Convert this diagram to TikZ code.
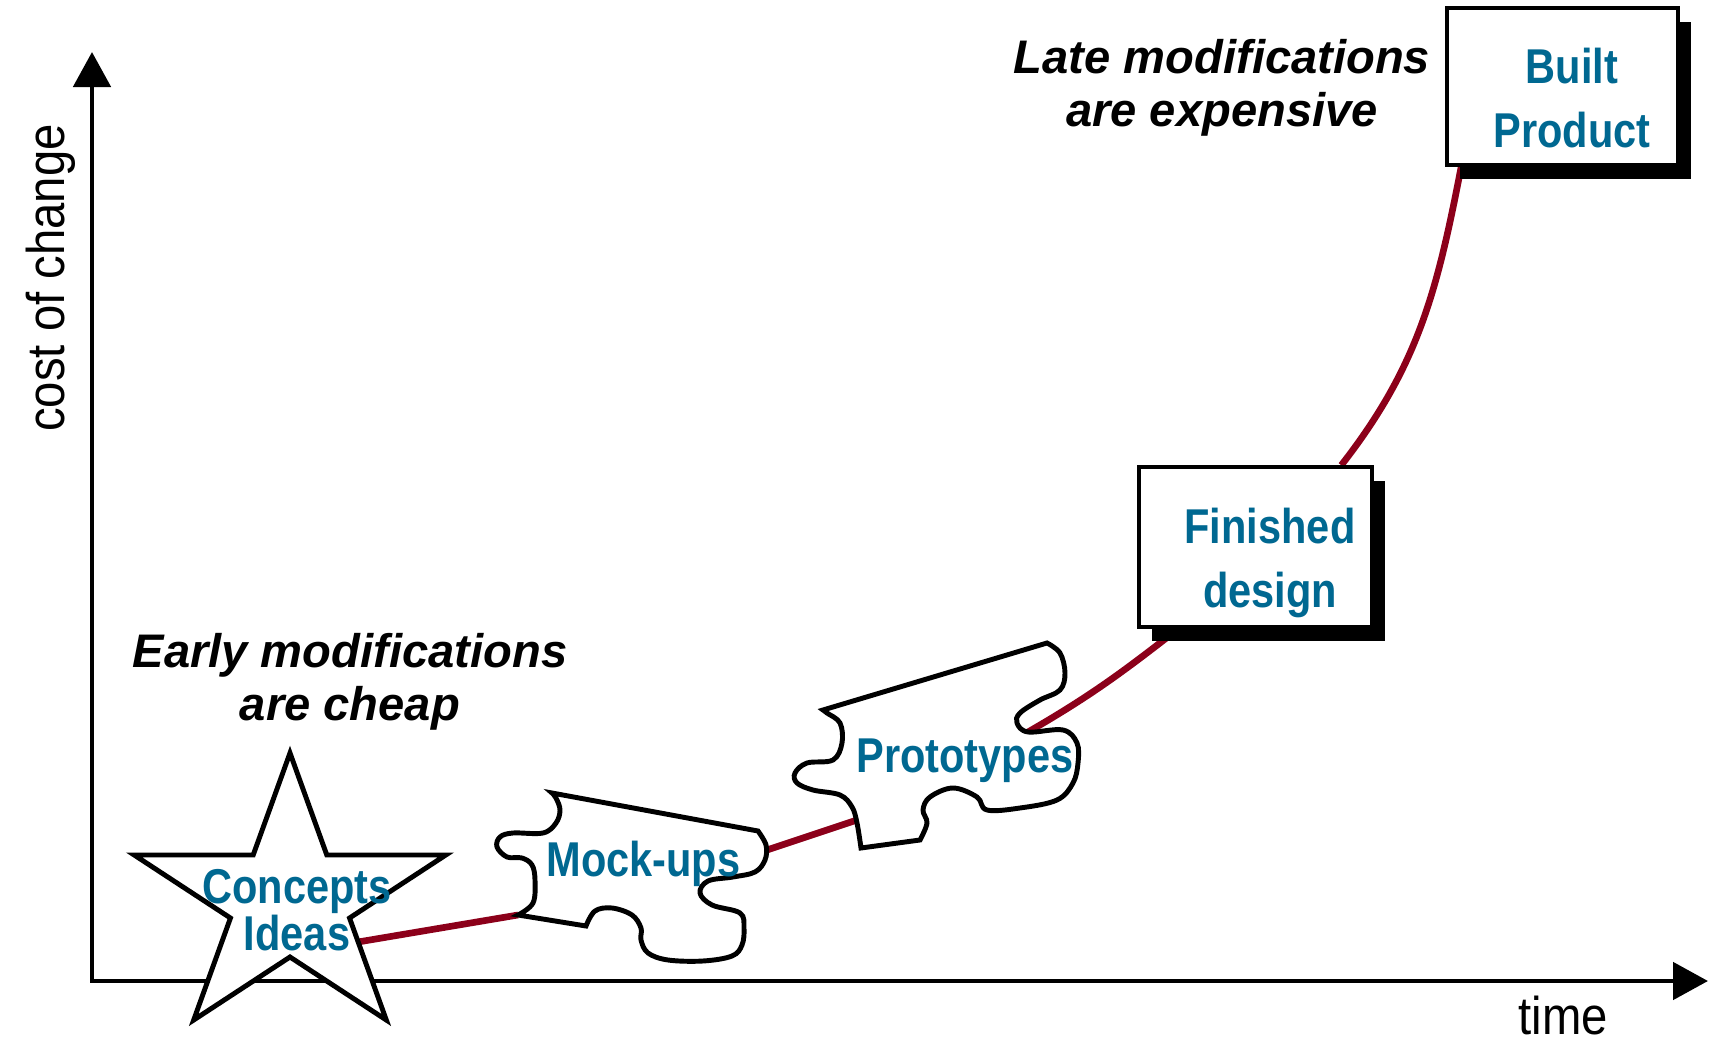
\documentclass[tikz,border=0pt]{standalone}
\usepackage{fontspec}
\setmainfont{Liberation Sans}
\newfontfamily\narrowfont[FakeStretch=0.85]{Liberation Sans}
\newfontfamily\axisfont[FakeStretch=0.89]{Liberation Sans}
\usepackage{tikz}
\usetikzlibrary{arrows.meta,positioning,shadows,backgrounds,calc}

\definecolor{labelblue}{RGB}{0,104,145}
\definecolor{costred}{RGB}{140,0,26}

\begin{document}
\begin{tikzpicture}[x=0.01cm,y=0.01cm,
  >={Triangle[length=3.5mm,width=3.7mm]},
  outline/.style={draw=black,line width=1.4pt,fill=white},
  stage/.style={draw=black,line width=1pt,fill=white,
    drop shadow={shadow xshift=0.13cm,shadow yshift=-0.14cm,fill=black,opacity=1}},
  stagetext/.style={text=labelblue,align=center,inner sep=0pt,
    font=\narrowfont\bfseries\fontsize{13.9}{18.2}\selectfont},
  note/.style={align=center,inner sep=0pt,font=\bfseries\itshape\fontsize{13.4}{15.1}\selectfont},
  axislabel/.style={inner sep=0pt,font=\axisfont\fontsize{15.1}{18}\selectfont},
  costline/.style={draw=costred,line width=1.9pt},
  axisline/.style={line width=1.4pt}]
  \useasboundingbox (0,0) rectangle (1709,1042);
  % Axes end points
  \coordinate (origin) at (92,61);
  \coordinate (ytip) at (92,990);
  \coordinate (xtip) at (1708,61);
  % Draw the star and the two puzzle pieces
  \draw[outline,shift={(290,141.4)},xscale=1.11] (90:147.6) -- (126:56.4) -- (162:147.6) -- (198:56.4) -- (234:147.6) -- (270:56.4) -- (306:147.6) -- (342:56.4) -- (18:147.6) -- (54:56.4) -- cycle;
  \draw[outline] (552,249) -- (758,211) -- plot[smooth,tension=0.6] coordinates {(758,211) (766,197) (765,182) (755,170) (733,165) (708,161) (700,149) (712,137) (740,129) (744,114) (742,97) (732,86) (703,81) (668,82) (648,89) (641,102) (641,114) (632,127) (612,134) (595,131) (586,116)} -- (518,127) -- plot[smooth,tension=0.6] coordinates {(518,127) (533,139) (535,162) (532,177) (522,184) (507,185) (497,195) (500,205) (513,209) (543,209) (556,219) (560,232) (556,244) (552,249)} -- cycle;
  \draw[outline] (823,332) -- (1047,399) -- plot[smooth,tension=0.6] coordinates {(1047,399) (1060,389) (1065,369) (1060,352) (1040,342) (1020,329) (1017,319) (1028,310) (1063,312) (1077,299) (1078,279) (1073,259) (1057,242) (1020,234) (987,232) (977,245) (953,254) (930,245) (923,232) (927,219) (920,202)} -- (861,194) -- plot[smooth,tension=0.6] coordinates {(861,194) (857,219) (852,235) (840,247) (813,252) (797,259) (795,269) (807,279) (833,282) (842,299) (840,319) (827,329) (823,332)} -- cycle;
  % Where the cost curve meets the shapes
  \coordinate (star-e) at (358,100);
  \coordinate (mock-w) at (518,127);
  \coordinate (mock-e) at (767,192);
  \coordinate (proto-w) at (857,222);
  \coordinate (proto-e) at (1028,310);
  % Stages
  \path (297,132) node[stagetext] (concepts) {Concepts\\[-5pt]Ideas};
  \path (643.5,178) node[stagetext] (mock) {Mock-ups};
  \path (965,281.5) node[stagetext] (proto) {Prototypes};
  \path (1255.5,495) node[stage,minimum width=2.33cm,minimum height=1.6cm] (design) {};
  \path (1270,479.5) node[stagetext] (designtext) {Finished\\design};
  \path (1562.5,955.5) node[stage,minimum width=2.31cm,minimum height=1.57cm] (built) {};
  \path (1572,944) node[stagetext] (builttext) {Built\\Product};
  % Notes and axis labels
  \path (350,360.5) node[note] (early) {Early modifications\\are cheap};
  \path (1222,954) node[note] (late) {Late modifications\\are expensive};
  \path (51,764) node[axislabel,rotate=90] (costlabel) {cost of change};
  \path (1563,26) node[axislabel] (timelabel) {time};
  % Axes and the cost curve go behind everything
  \begin{pgfonlayer}{background}
    \draw[axisline,<->] (ytip) -- (origin) -- (xtip);
    \draw[costline] (star-e) -- (mock-w) (mock-e) -- (proto-w);
    \draw[costline] (proto-e) to[out=30,in=218] ([xshift=0.41cm]design.south west);
    \draw[costline] ([xshift=2.04cm]design.north west) to[out=52,in=-101] ([xshift=0.16cm]built.south west);
  \end{pgfonlayer}
\end{tikzpicture}
\end{document}
